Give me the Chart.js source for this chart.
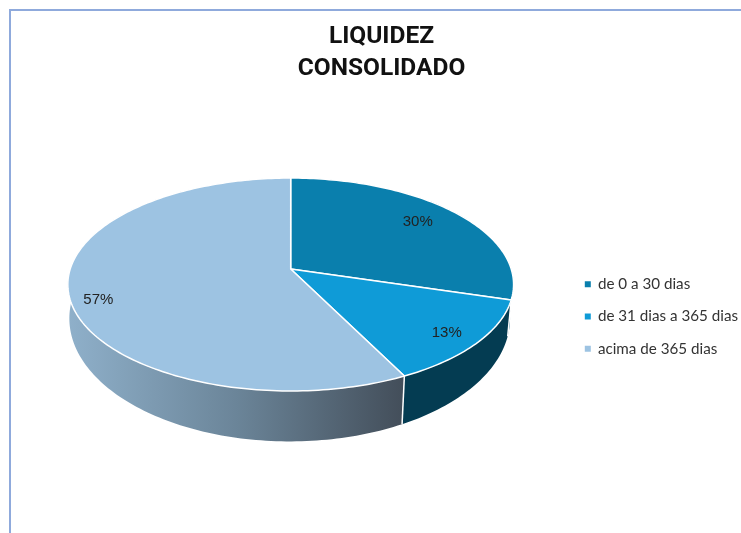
<!DOCTYPE html>
<html>
<head>
<meta charset="utf-8">
<script src="https://cdn.jsdelivr.net/npm/chart.js@4"></script>
<style>
  html, body { margin: 0; background: #fff; }
  #wrap { position: relative; width: 741px; height: 533px; overflow: hidden; }
  #frame { position: absolute; left: 9px; top: 9px; right: -5px; bottom: -5px; border: 2px solid #8faadc; }
</style>
</head>
<body>
<div id="wrap">
  <canvas id="chart" width="741" height="533"></canvas>
  <div id="frame"></div>
</div>
<script>
const titleLines = ["LIQUIDEZ", "CONSOLIDADO"];
const categories = ["de 0 a 30 dias", "de 31 dias a 365 dias", "acima de 365 dias"];
const shares = [29.6, 13.0, 57.4];
const topColors = ["#0a7fad", "#0f9bd7", "#9dc3e2"];

// where the percent text sits inside each slice
const labelRadius = [0.785, 0.86, 0.884];
const labelShift = [-1.5, 1, -5.7];

// perspective of the tilted disc
const pie = { cx: 290.7, cy: 269, a: 220.5, b: 104.2, p: 0.1456 };
const base = { cx: 289.7, cy: 300.5, a: 218, b: 120.4, p: 0.1456 };

// legend sits lower than the library would put it
const legendMove = { x: 1, y: 50 };

const project = (g, angle, r) => {
  const u = Math.cos(angle) * r;
  const v = Math.sin(angle) * r;
  const d = 1 - g.p * v;
  return [g.cx + g.a * u / d, g.cy + g.b * v / d];
};

const tracePoints = (ctx, g, from, to, move) => {
  const steps = Math.max(2, Math.ceil(Math.abs(to - from) / 0.02));
  for (let i = 0; i <= steps; i++) {
    const pt = project(g, from + (to - from) * i / steps, 1);
    if (i === 0 && move) ctx.moveTo(pt[0], pt[1]);
    else ctx.lineTo(pt[0], pt[1]);
  }
};

const discPlugin = {
  id: "disc",
  afterLayout(chart) {
    const legend = chart.legend;
    legend.left += legendMove.x;
    legend.right += legendMove.x;
    legend.top += legendMove.y;
    legend.bottom += legendMove.y;
  },
  beforeDatasetDraw(chart, args) {
    const ctx = chart.ctx;
    const arcs = chart.getDatasetMeta(args.index).data;

    // lado do disco
    const shade = ctx.createLinearGradient(68, 0, 403, 0);
    shade.addColorStop(0, "#8fb0ca");
    shade.addColorStop(0.5, "#6b8599");
    shade.addColorStop(1, "#434e5a");
    const sideColors = ["#055a7c", "#043c52", shade];

    arcs.forEach((arc, i) => {
      ctx.beginPath();
      tracePoints(ctx, pie, arc.startAngle, arc.endAngle, true);
      tracePoints(ctx, base, arc.endAngle, arc.startAngle, false);
      ctx.closePath();
      ctx.fillStyle = sideColors[i];
      ctx.fill();
    });

    ctx.strokeStyle = "#ffffff";
    ctx.lineWidth = 1.5;
    arcs.forEach((arc) => {
      if (Math.sin(arc.startAngle) <= 0) return;
      const a = project(pie, arc.startAngle, 1);
      const b = project(base, arc.startAngle, 1);
      ctx.beginPath();
      ctx.moveTo(a[0], a[1]);
      ctx.lineTo(b[0], b[1]);
      ctx.stroke();
    });

    // tampa
    arcs.forEach((arc, i) => {
      ctx.beginPath();
      ctx.moveTo(pie.cx, pie.cy);
      tracePoints(ctx, pie, arc.startAngle, arc.endAngle, false);
      ctx.closePath();
      ctx.fillStyle = topColors[i];
      ctx.fill();
      ctx.strokeStyle = "#ffffff";
      ctx.lineWidth = 1.5;
      ctx.lineJoin = "round";
      ctx.stroke();
    });

    ctx.font = "15px 'Liberation Sans'";
    ctx.fillStyle = "#222222";
    ctx.textAlign = "center";
    ctx.textBaseline = "middle";
    arcs.forEach((arc, i) => {
      const mid = (arc.startAngle + arc.endAngle) / 2 + labelShift[i] * Math.PI / 180;
      const pt = project(pie, mid, labelRadius[i]);
      ctx.fillText(Math.round(shares[i]) + "%", pt[0], pt[1]);
    });
    return false;
  },
};

new Chart(document.getElementById("chart"), {
  type: "pie",
  data: {
    labels: categories,
    datasets: [{ data: shares, backgroundColor: topColors, borderColor: "#ffffff" }],
  },
  options: {
    responsive: false,
    animation: false,
    layout: { padding: { left: 16, right: -6 } },
    plugins: {
      tooltip: { enabled: false },
      title: {
        display: true,
        text: titleLines,
        color: "#111111",
        font: { family: "Roboto", size: 24.5, weight: "bold", lineHeight: 1.29 },
        padding: { top: 21, bottom: 16 },
      },
      legend: {
        position: "right",
        labels: {
          usePointStyle: true,
          pointStyle: "rect",
          boxWidth: 5,
          boxHeight: 8,
          padding: 17,
          color: "#333333",
          font: { family: "Lato", size: 15.2 },
        },
      },
    },
  },
  plugins: [discPlugin],
});
</script>
</body>
</html>
